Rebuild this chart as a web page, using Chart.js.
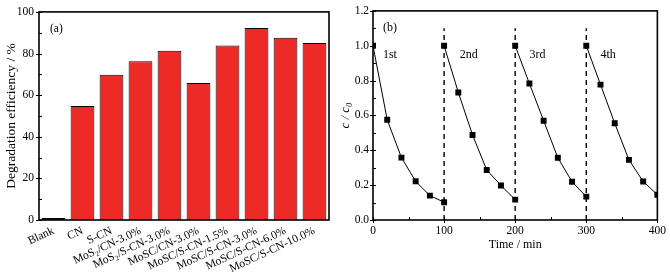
<!DOCTYPE html>
<html>
<head>
<meta charset="utf-8">
<script src="https://cdn.jsdelivr.net/npm/chart.js@4.4.0/dist/chart.umd.min.js"></script>
<style>
  html, body { margin: 0; padding: 0; background: #fff; }
  #wrap { position: relative; width: 670px; height: 272px; overflow: hidden; }
  canvas { position: absolute; top: 0; }
</style>
</head>
<body>
<div id="wrap">
  <canvas id="ca" width="335" height="272" style="left:0"></canvas>
  <canvas id="cb" width="335" height="272" style="left:335px"></canvas>
</div>
<script>
// ---- Panel (a) data ----
const barCategories = ['Blank', 'CN', 'S-CN', 'MoS\u2082/CN-3.0%', 'MoS\u2082/S-CN-3.0%', 'MoSC/CN-3.0%',
  'MoSC/S-CN-1.5%', 'MoSC/S-CN-3.0%', 'MoSC/S-CN-6.0%', 'MoSC/S-CN-10.0%'];
const barValues = [1.0, 54.8, 69.8, 76.3, 81.3, 65.8, 83.8, 92.3, 87.6, 85.1];
const barYTicks = [0, 20, 40, 60, 80, 100];

// ---- Panel (b) data ----
const cycle1Time = [0, 20, 40, 60, 80, 100];
const cycle1Val = [1.0, 0.575, 0.358, 0.222, 0.140, 0.102];
const cycle2Time = [100, 120, 140, 160, 180, 200];
const cycle2Val = [1.0, 0.732, 0.488, 0.287, 0.198, 0.117];
const cycle3Time = [200, 220, 240, 260, 280, 300];
const cycle3Val = [1.0, 0.783, 0.570, 0.357, 0.219, 0.134];
const cycle4Time = [300, 320, 340, 360, 380, 400];
const cycle4Val = [1.0, 0.777, 0.555, 0.345, 0.221, 0.145];
const cycleBoundaries = [100, 200, 300];
const boundaryTop = 1.1;
const cycleLabels = ['1st', '2nd', '3rd', '4th'];
const cycleLabelX = [14, 122, 220, 320];
const cycleLabelY = 0.945;
const lineXTicks = [0, 100, 200, 300, 400];
const lineYTicks = [0.0, 0.2, 0.4, 0.6, 0.8, 1.0, 1.2];

const FONT = "'Liberation Serif', 'DejaVu Serif', serif";
const tickFont = { family: FONT, size: 11.5 };
const catFont = { family: FONT, size: 11.5 };

// frame + tick marks plugin
function frameTicks(opts) {
  return {
    id: 'frameTicks',
    afterDatasetsDraw(chart) {
      const { ctx, chartArea: a } = chart;
      ctx.save();
      ctx.strokeStyle = '#000';
      ctx.lineWidth = 1;
      const ys = chart.scales.y;
      const yt = ys.ticks.map(t => t.value);
      yt.forEach((v, i) => {
        const p = Math.round(ys.getPixelForValue(v)) + 0.5;
        ctx.beginPath(); ctx.moveTo(a.left - 3, p); ctx.lineTo(a.left + 3, p); ctx.stroke();
        if (i < yt.length - 1) {
          const m = Math.round(ys.getPixelForValue((v + yt[i + 1]) / 2)) + 0.5;
          ctx.beginPath(); ctx.moveTo(a.left, m); ctx.lineTo(a.left + 3, m); ctx.stroke();
        }
      });
      if (opts.xTicks) {
        const xs = chart.scales.x;
        const xt = xs.ticks.map(t => t.value);
        xt.forEach((v, i) => {
          const p = Math.round(xs.getPixelForValue(v)) + 0.5;
          ctx.beginPath(); ctx.moveTo(p, a.bottom + 3); ctx.lineTo(p, a.bottom - 3); ctx.stroke();
          if (i < xt.length - 1) {
            const m = Math.round(xs.getPixelForValue((v + xt[i + 1]) / 2)) + 0.5;
            ctx.beginPath(); ctx.moveTo(m, a.bottom); ctx.lineTo(m, a.bottom - 3); ctx.stroke();
          }
        });
      }
      ctx.lineWidth = 1.6;
      ctx.strokeRect(a.left, a.top, a.right - a.left, a.bottom - a.top);
      ctx.restore();
    }
  };
}

// ---- Chart (a) ----
new Chart(document.getElementById('ca'), {
  type: 'bar',
  data: {
    labels: barCategories,
    datasets: [{
      data: barValues,
      backgroundColor: c => c.dataIndex === 0 ? '#6e1a1a' : '#ee2a27',
      borderColor: '#000',
      borderWidth: 1,
      borderSkipped: 'bottom',
      barPercentage: 0.82,
      categoryPercentage: 1.0
    }]
  },
  options: {
    responsive: false,
    animation: false,
    devicePixelRatio: 1,
    layout: { padding: { left: 0, right: 6, top: 8, bottom: 0 } },
    plugins: {
      legend: { display: false },
      tooltip: { enabled: false }
    },
    scales: {
      x: {
        offset: true,
        grid: { display: false, drawTicks: false },
        border: { display: false },
        ticks: { font: catFont, color: '#000', minRotation: 25, maxRotation: 25, autoSkip: false, padding: 4 },
        afterFit: s => { s.height = 52; }
      },
      y: {
        min: 0, max: 100,
        afterBuildTicks: s => { s.ticks = barYTicks.map(v => ({ value: v })); },
        grid: { display: false, drawTicks: false },
        border: { display: false },
        ticks: { font: tickFont, color: '#000', padding: 5 },
        title: { display: true, text: 'Degradation efficiency / %', font: { family: FONT, size: 13.5 }, color: '#000', padding: { top: 3, bottom: 0 } },
        afterFit: s => { s.width = 39; }
      }
    }
  },
  plugins: [frameTicks({ xTicks: false }), {
    id: 'panelA',
    afterDraw(chart) {
      const { ctx, chartArea: a } = chart;
      ctx.save();
      ctx.font = "11.5px " + FONT;
      ctx.fillStyle = '#000';
      ctx.textBaseline = 'middle';
      ctx.fillText('(a)', a.left + 11, a.top + 17);
      ctx.restore();
    }
  }]
});

// ---- Chart (b) ----
function pts(t, v) { return t.map((x, i) => ({ x, y: v[i] })); }
const cycleDatasets = [[cycle1Time, cycle1Val], [cycle2Time, cycle2Val], [cycle3Time, cycle3Val], [cycle4Time, cycle4Val]]
  .map(([t, v]) => ({
    data: pts(t, v),
    borderColor: '#000',
    backgroundColor: '#000',
    borderWidth: 1,
    pointStyle: 'rect',
    pointRadius: 4.2,
    pointBorderWidth: 0,
    tension: 0,
    clip: 0
  }));
const boundaryDatasets = cycleBoundaries.map(b => ({
  data: [{ x: b, y: 0 }, { x: b, y: boundaryTop }],
  borderColor: '#000',
  borderWidth: 1.4,
  borderDash: [5, 4],
  pointRadius: 0
}));

new Chart(document.getElementById('cb'), {
  type: 'line',
  data: { datasets: [...boundaryDatasets, ...cycleDatasets] },
  options: {
    responsive: false,
    animation: false,
    devicePixelRatio: 1,
    layout: { padding: { left: 0, right: 11, top: 8, bottom: 0 } },
    plugins: {
      legend: { display: false },
      tooltip: { enabled: false }
    },
    scales: {
      x: {
        type: 'linear',
        min: 0, max: 400,
        afterBuildTicks: s => { s.ticks = lineXTicks.map(v => ({ value: v })); },
        grid: { display: false, drawTicks: false },
        border: { display: false },
        ticks: { font: tickFont, color: '#000', padding: 4 },
        title: { display: true, text: 'Time / min', font: { family: FONT, size: 12 }, color: '#000', padding: { top: 4, bottom: 20 } },
        afterFit: s => { s.height = 52; }
      },
      y: {
        min: 0, max: 1.2,
        afterBuildTicks: s => { s.ticks = lineYTicks.map(v => ({ value: v })); },
        grid: { display: false, drawTicks: false },
        border: { display: false },
        ticks: { font: tickFont, color: '#000', padding: 4, callback: v => Number(v).toFixed(1) },
        title: { display: true, text: 'c / c\u2080', font: { family: FONT, size: 13, style: 'italic' }, color: '#000', padding: { top: 3, bottom: 0 } },
        afterFit: s => { s.width = 38; }
      }
    }
  },
  plugins: [frameTicks({ xTicks: true }), {
    id: 'panelB',
    afterDraw(chart) {
      const { ctx, chartArea: a, scales: { x, y } } = chart;
      ctx.save();
      ctx.font = "12px " + FONT;
      ctx.fillStyle = '#000';
      ctx.textBaseline = 'middle';
      ctx.fillText('(b)', a.left + 10, a.top + 17);
      cycleLabels.forEach((t, i) => {
        ctx.fillText(t, x.getPixelForValue(cycleLabelX[i]), y.getPixelForValue(cycleLabelY));
      });
      ctx.restore();
    }
  }]
});
</script>
</body>
</html>
